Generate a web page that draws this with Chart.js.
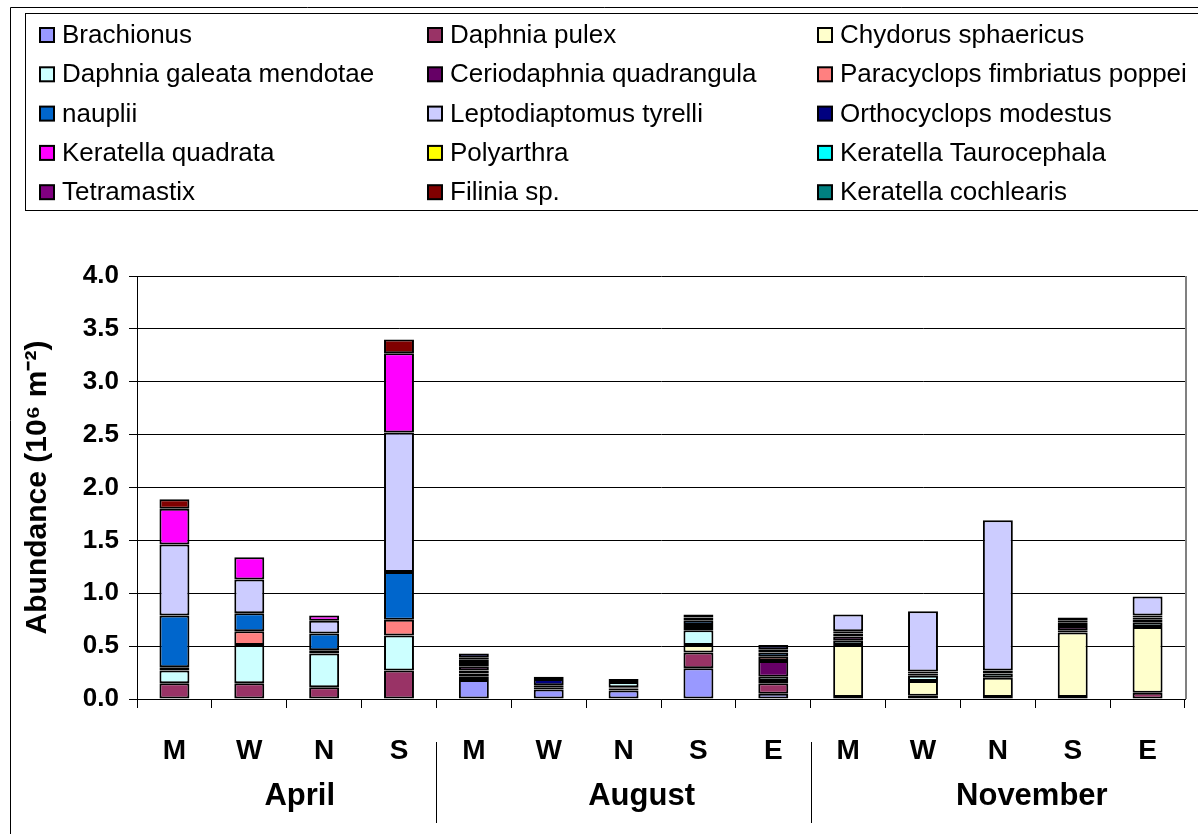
<!DOCTYPE html>
<html>
<head>
<meta charset="utf-8">
<script src="https://cdn.jsdelivr.net/npm/chart.js@4.4.0/dist/chart.umd.min.js"></script>
<style>
  body { margin: 0; background: #fff; }
  #wrap { width: 1198px; height: 834px; }
</style>
</head>
<body>
<div id="wrap"><canvas id="zooChart" width="1198" height="834"></canvas></div>
<script>
// categories (site) and months
const sites = ['M', 'W', 'N', 'S', 'M', 'W', 'N', 'S', 'E', 'M', 'W', 'N', 'S', 'E'];
const months = ['April', 'August', 'November'];
const monthSizes = [4, 5, 5];

// abundance per taxon (10^6 m^-2), one value per bar
const brachionus    = [0, 0, 0, 0, 0.18, 0.09, 0.08, 0.29, 0.05, 0, 0, 0, 0, 0];
const daphniaPulex  = [0.15, 0.15, 0.11, 0.27, 0.03, 0, 0.02, 0.15, 0.10, 0.02, 0.03, 0.02, 0.02, 0.06];
const chydorus      = [0, 0, 0, 0, 0.03, 0, 0.01, 0.07, 0.02, 0.49, 0.14, 0.18, 0.61, 0.62];
const daphniaGal    = [0.12, 0.36, 0.32, 0.33, 0.03, 0, 0.05, 0.14, 0.04, 0.04, 0.05, 0.04, 0.02, 0.04];
const ceriodaphnia  = [0, 0, 0, 0, 0.04, 0.02, 0, 0.03, 0.15, 0.04, 0.02, 0.03, 0.04, 0.03];
const paracyclops   = [0.03, 0.13, 0.03, 0.15, 0.03, 0, 0, 0.02, 0.04, 0.03, 0, 0, 0.03, 0.02];
const nauplii       = [0.49, 0.17, 0.16, 0.45, 0.03, 0.02, 0, 0.04, 0.04, 0.02, 0.02, 0, 0.02, 0.02];
const leptodiap     = [0.67, 0.32, 0.12, 1.32, 0.02, 0, 0, 0.03, 0.03, 0.16, 0.57, 1.42, 0, 0.18];
const orthocyclops  = [0, 0, 0, 0, 0.04, 0.06, 0.03, 0.03, 0.04, 0, 0, 0, 0.03, 0];
const kerQuadrata   = [0.34, 0.21, 0.05, 0.75, 0, 0, 0, 0, 0, 0, 0, 0, 0, 0];
const polyarthra    = [0, 0, 0, 0, 0, 0, 0, 0, 0, 0, 0, 0, 0, 0];
const kerTauro      = [0, 0, 0, 0, 0, 0, 0, 0, 0, 0, 0, 0, 0, 0];
const tetramastix   = [0, 0, 0, 0, 0, 0.02, 0, 0, 0, 0, 0, 0, 0, 0];
const filinia       = [0.09, 0, 0, 0.13, 0, 0, 0, 0, 0, 0, 0, 0, 0, 0];
const kerCochlearis = [0, 0, 0, 0, 0, 0, 0, 0, 0, 0, 0, 0, 0, 0];

const yTicks = [0, 0.5, 1, 1.5, 2, 2.5, 3, 3.5, 4];

const FONT = '"Liberation Sans", Arial, sans-serif';

const taxa = [
  ['Brachionus', brachionus, '#9999FF'],
  ['Daphnia pulex', daphniaPulex, '#993366'],
  ['Chydorus sphaericus', chydorus, '#FFFFCC'],
  ['Daphnia galeata mendotae', daphniaGal, '#CCFFFF'],
  ['Ceriodaphnia quadrangula', ceriodaphnia, '#660066'],
  ['Paracyclops fimbriatus poppei', paracyclops, '#FF8080'],
  ['nauplii', nauplii, '#0066CC'],
  ['Leptodiaptomus tyrelli', leptodiap, '#CCCCFF'],
  ['Orthocyclops modestus', orthocyclops, '#000080'],
  ['Keratella quadrata', kerQuadrata, '#FF00FF'],
  ['Polyarthra', polyarthra, '#FFFF00'],
  ['Keratella Taurocephala', kerTauro, '#00FFFF'],
  ['Tetramastix', tetramastix, '#800080'],
  ['Filinia sp.', filinia, '#800000'],
  ['Keratella cochlearis', kerCochlearis, '#008080']
];

// legend box, frame and month labels drawn around the plot
const decorations = {
  id: 'decorations',
  afterDraw(chart) {
    const ctx = chart.ctx;
    const area = chart.chartArea;
    ctx.save();

    // outer frame
    ctx.strokeStyle = '#000';
    ctx.lineWidth = 1;
    ctx.beginPath();
    ctx.moveTo(10.5, 834);
    ctx.lineTo(10.5, 7.5);
    ctx.lineTo(1198, 7.5);
    ctx.stroke();

    // plot area right edge
    ctx.strokeStyle = '#808080';
    ctx.lineWidth = 2;
    ctx.beginPath();
    ctx.moveTo(area.right + 1, area.top);
    ctx.lineTo(area.right + 1, area.bottom);
    ctx.stroke();

    // legend
    ctx.strokeStyle = '#000';
    ctx.lineWidth = 1;
    ctx.strokeRect(25.5, 13.5, 1200, 197);
    ctx.font = '26px ' + FONT;
    ctx.textBaseline = 'middle';
    const colX = [40, 428, 818];
    chart.data.datasets.forEach(function (ds, i) {
      const x = colX[i % 3];
      const y = 35 + Math.floor(i / 3) * 39.3;
      ctx.fillStyle = ds.backgroundColor;
      ctx.fillRect(x, y - 7, 14, 14);
      ctx.lineWidth = 2;
      ctx.strokeRect(x, y - 7, 14, 14);
      ctx.fillStyle = '#000';
      ctx.fillText(ds.label, x + 22, y + 1);
    });

    // month labels and separators
    const xs = chart.scales.x;
    const step = xs.getPixelForValue(1) - xs.getPixelForValue(0);
    const labelShift = [13, 18, 34];
    ctx.font = 'bold 31px ' + FONT;
    ctx.textAlign = 'center';
    ctx.fillStyle = '#000';
    let start = 0;
    months.forEach(function (name, gi) {
      const first = xs.getPixelForValue(start);
      const last = xs.getPixelForValue(start + monthSizes[gi] - 1);
      ctx.fillText(name, (first + last) / 2 + labelShift[gi], 796);
      if (gi > 0) {
        const bx = Math.round(first - step / 2) + 0.5;
        ctx.lineWidth = 1;
        ctx.beginPath();
        ctx.moveTo(bx, 742);
        ctx.lineTo(bx, 823);
        ctx.stroke();
      }
      start += monthSizes[gi];
    });
    ctx.restore();
  }
};

const ctx = document.getElementById('zooChart').getContext('2d');
new Chart(ctx, {
  type: 'bar',
  data: {
    labels: sites,
    datasets: taxa.map(function (t) {
      return {
        label: t[0],
        data: t[1],
        backgroundColor: t[2],
        borderColor: '#000',
        borderWidth: 2,
        borderSkipped: false,
        barPercentage: 0.4,
        categoryPercentage: 1.0
      };
    })
  },
  options: {
    responsive: false,
    animation: false,
    layout: { padding: { top: 276, left: 10, right: 13, bottom: 0 } },
    plugins: {
      legend: { display: false },
      tooltip: { enabled: false }
    },
    scales: {
      x: {
        stacked: true,
        grid: {
          display: true,
          drawOnChartArea: false,
          drawTicks: true,
          tickLength: 9,
          color: '#000',
          offset: true
        },
        border: { color: '#000', width: 1 },
        ticks: {
          color: '#000',
          padding: 26,
          maxRotation: 0,
          font: { family: FONT, size: 28, weight: 'bold' }
        },
        afterFit: function (scale) { scale.height = 135; }
      },
      y: {
        stacked: true,
        min: 0,
        max: 4,
        afterBuildTicks: function (scale) {
          scale.ticks = yTicks.map(function (v) { return { value: v }; });
        },
        grid: { color: '#000', lineWidth: 1, tickLength: 8 },
        border: { color: '#000', width: 1 },
        ticks: {
          color: '#000',
          padding: 10,
          font: { family: FONT, size: 26, weight: 'bold' },
          callback: function (v) { return v.toFixed(1); }
        },
        title: {
          display: true,
          text: 'Abundance (10\u2076 m\u207B\u00B2)',
          color: '#000',
          font: { family: FONT, size: 30, weight: 'bold' },
          padding: { top: 10, bottom: 0 }
        },
        afterFit: function (scale) { scale.width = 127; }
      }
    }
  },
  plugins: [decorations]
});
</script>
</body>
</html>
